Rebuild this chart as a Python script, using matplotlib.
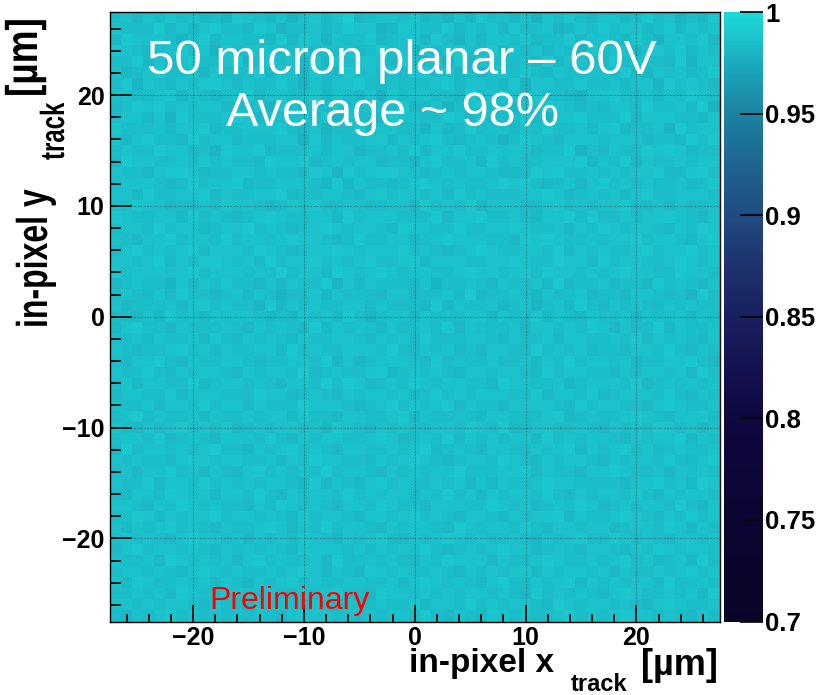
import numpy as np
import matplotlib
matplotlib.use("Agg")
import matplotlib.pyplot as plt
from matplotlib.colors import LinearSegmentedColormap
from matplotlib.textpath import TextPath
from matplotlib.patches import PathPatch
from matplotlib.font_manager import FontProperties
from matplotlib.transforms import Affine2D, IdentityTransform

plt.rcParams['font.family'] = ['Liberation Sans', 'DejaVu Sans']

# 1 um bins, -27.5 .. 27.5 in x and y
xedges = np.arange(-27.5, 28.0, 1.0)
yedges = np.arange(-27.5, 28.0, 1.0)

# efficiency map, rows from top (y=+27) to bottom (y=-27)
# digit d -> efficiency 0.972 + 0.0024*d
rows = [
    "56465756453 76546357468 45665745364 75546365754 66457563547",
    "65557464675 54763556457 66347655746 56475563465 75664574656",
    "47666535746 65547476365 57456647536 46657455746 65475366574",
    "76545675637 46665574556 45756364675 57465646537 56646757465",
    "55746467556 73565647465 66547556374 65556474665 47565547366",
    "64567556465 55746637547 56465775645 36657546556 65754656457",
    "57365465776 46557536466 75465556746 65473665575 56466375654",
    "66556746545 67466557465 46375665547 56664755436 67556465765",
    "45767565664 55637646575 66557446356 75546676545 46657556473",
    "56646375556 76455664736 55476655764 64557436675 55746665546",
    "75556466745 56667546355 74665536457 56646575564 67455637566",
    "64675547566 45556637465 56746567545 65357654666 56664554757",
    "56557664537 66745556466 45565746675 56666455735 46557676455",
    "47665565756 55476674565 66455367556 47565566674 65746556566",
    "65546776455 66565547637 56776545656 65445767556 56566744675",
    "56665457566 74556665474 65545676565 56767545646 75656556457",
    "66475566746 55667455665 46756656475 65556676456 56467556665",
    "55766455657 66545767556 65566475657 46665567565 66755646556",
    "76556647565 45676556647 56665557466 75565466757 55656676546",
    "56657566456 67565456765 66547665575 56676556465 76566546576",
    "65466756657 56656766545 75566456766 65547676556 56675665467",
    "56756567466 65765456676 56667565456 76556657465 65567566756",
    "66567465776 56475667565 67556746665 56676557664 75665567656",
    "75666567566 65657566476 56765665567 66567576656 56766557665",
    "45655364657 55464655736 46555463556 54655647455 64554756546",
    "56546475545 64653556465 55466455647 45565465564 55466545375",
    "64555646756 55374656556 64655547465 56456356475 46565465655",
    "55464756465 66545465647 53566465556 64655746546 55646556465",
    "46755465556 54656547465 65465565746 55564665657 64655746556",
    "55646556475 46565465566 54656475556 65465564665 56574656546",
    "65455675646 55664756556 66575465645 46655756564 55466575465",
    "54667546556 65455665746 45666547565 56556465756 65645566754",
    "65575465665 46566574565 56745656546 65665475665 54656656475",
    "56466557456 65654665757 64565765665 54766556456 66574565656",
    "46655746665 55766456546 56656457565 66655746657 45666575465",
    "65564665756 64655576665 45675656746 55466665475 66554676556",
    "56756556465 56566475546 65567465565 46655567456 55676546675",
    "65465675657 45656656476 54656556657 65745665565 46565765646",
    "56657456546 66575465665 56764565746 56566475656 65465667465",
    "47566565675 54656756546 65565674565 46655656746 56756456556",
    "65655467656 65564657665 54656765456 65765465665 46566575467",
    "56466756465 46756565756 65465656675 55667465546 67655646565",
    "65574665756 56566547465 46756556564 64655676655 55466756476",
    "54665765646 65754656657 56566465756 46566575465 66575465665",
    "66546576565 54657656546 65765546665 57656456576 45656657546",
    "55764656675 66565475665 46656756546 65465667465 56765465756",
    "64656756546 55676465756 65465665476 56657546656 64566576465",
    "56565467665 64656576546 56754656765 65565465675 57656546656",
    "46756656546 56565476665 64656575456 56766456546 65465765665",
    "65564765656 46756556475 56565465766 64655676556 56756456475",
    "56656546765 65565676465 47656556546 56567465665 64655656756",
    "64765565646 54656756556 65564676565 46755656746 56566475565",
    "55656476556 66565465675 54766565656 65654756565 46765565647",
    "66565665475 54766656546 65655746657 56566547656 65654676556",
    "54656756565 65654676656 56566575465 47656556756 56766565465",
]

levels = np.array([[int(c) for c in r.replace(" ", "").ljust(55, "5")[:55]] for r in rows])
eff = 0.972 + 0.0024 * levels

# palette sampled from the colour bar
cb_stops = [0.70, 0.75, 0.80, 0.825, 0.85, 0.875, 0.90, 0.925, 0.95, 0.975, 1.00]
cb_cols = ["#0a0528", "#0c0532", "#0f0841", "#141250", "#19205f", "#1e326e",
           "#204b80", "#1e6491", "#1c82a0", "#1baabe", "#1cdad8"]
pos = np.clip(np.round((np.array(cb_stops) - 0.7) / 0.3, 6), 0, 1)
cmap = LinearSegmentedColormap.from_list("eff", list(zip(pos, cb_cols)))

W, H = 819, 695
fig = plt.figure(figsize=(W / 100, H / 100), dpi=100)


def px(x, y):
    return x / W, 1 - y / H


def vtext(s, x, y, em, stretch):
    # rotated bold text drawn as a path, glyphs stretched across the baseline
    fp = FontProperties(family='Liberation Sans', weight='bold')
    tp = TextPath((0, 0), s, size=em, prop=fp)
    tr = Affine2D().scale(1, stretch).rotate_deg(90).translate(x, H - y)
    fig.add_artist(PathPatch(tr.transform_path(tp), facecolor='black',
                             edgecolor='none', transform=IdentityTransform()))


ax = fig.add_axes([110 / W, 1 - 621.5 / H, 609.5 / W, 609.5 / H])
mesh = ax.pcolormesh(xedges, yedges, eff[::-1], cmap=cmap, vmin=0.7, vmax=1.0)
ax.set_xlim(-27.5, 27.5)
ax.set_ylim(-27.5, 27.5)

ax.set_xticks([-20, -10, 0, 10, 20])
ax.set_yticks([-20, -10, 0, 10, 20])
ax.set_xticks(np.arange(-26, 27, 2), minor=True)
ax.set_yticks(np.arange(-26, 27, 2), minor=True)
ax.set_xticklabels(["\u221220", "\u221210", "0", "10", "20"])
ax.set_yticklabels(["\u221220", "\u221210", "0", "10", "20"])
ax.tick_params(axis='both', which='both', direction='in', top=False, right=False,
               labelsize=18, width=1.2)
ax.tick_params(axis='x', which='major', length=12, pad=3)
ax.tick_params(axis='x', which='minor', length=6)
ax.tick_params(axis='y', which='major', length=15.5, pad=4)
ax.tick_params(axis='y', which='minor', length=8)
for lab in ax.get_xticklabels() + ax.get_yticklabels():
    lab.set_fontweight('bold')
ax.set_axisbelow(False)
ax.grid(True, which='major', color='#0b3a44', lw=0.6, ls=(0, (2, 2)), alpha=0.7)
for sp in ax.spines.values():
    sp.set_linewidth(1.0)

cax = fig.add_axes([724 / W, 1 - 621.5 / H, 39 / W, 609.5 / H])
cb = fig.colorbar(mesh, cax=cax)
cb.outline.set_visible(False)
cb.set_ticks([0.7, 0.75, 0.8, 0.85, 0.9, 0.95, 1.0])
cb.set_ticklabels(["0.7", "0.75", "0.8", "0.85", "0.9", "0.95", "1"])
cax.tick_params(direction='in', length=16.5, width=1.2, pad=1.5, labelsize=18.5)
cax.minorticks_off()
for lab in cax.get_yticklabels():
    lab.set_fontweight('bold')

# overlay texts
fig.text(*px(402, 74), "50 micron planar \u2013 60V", color='white', fontsize=35.5,
         ha='center', va='baseline')
fig.text(*px(393, 126), "Average ~ 98%", color='white', fontsize=35,
         ha='center', va='baseline')
fig.text(*px(209, 609), "Preliminary", color='red', fontsize=23,
         ha='left', va='baseline')

# x title, ROOT style with subscript
fig.text(*px(409, 672), "in-pixel x", fontsize=24, fontweight='bold',
         ha='left', va='baseline')
fig.text(*px(571, 691), "track", fontsize=17, fontweight='bold',
         ha='left', va='baseline')
fig.text(*px(718, 675), "[\u00b5m]", fontsize=26, fontweight='bold',
         ha='right', va='baseline')

# y title
vtext("in-pixel y", 47, 328, 32, 1.35)
vtext("track", 64, 160, 24, 1.4)
vtext("[\u00b5m]", 37, 97, 37, 1.2)

fig.savefig("out.png", dpi=100)
